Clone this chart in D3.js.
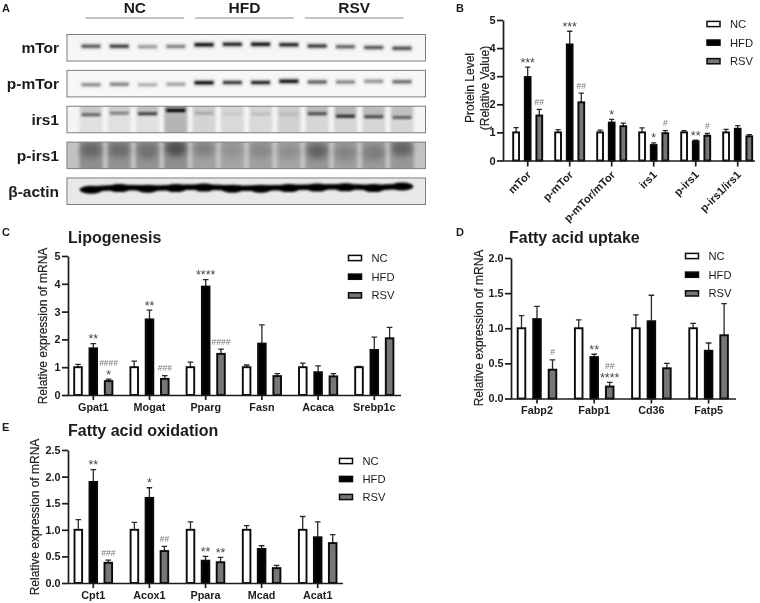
<!DOCTYPE html>
<html lang="en">
<head>
<meta charset="utf-8">
<title>Protein and mRNA levels</title>
<script src="https://d3js.org/d3.v7.min.js"></script>
<style>
  html, body { margin: 0; padding: 0; background: #fff; }
  svg { display: block; filter: blur(0.3px); }
  text { font-family: "Liberation Sans", Arial, sans-serif; fill: #1c1c1c; }
  .bold { font-weight: bold; }
</style>
</head>
<body>
<svg id="chart" width="760" height="603"></svg>
<script>
var series = ["NC", "HFD", "RSV"];
var seriesFill = ["#ffffff", "#000000", "#767676"];

// panel A, blot bands
var blotGroups = ["NC", "HFD", "RSV"];
var blotRows = ["mTor", "p-mTor", "irs1", "p-irs1", "β-actin"];
var lanes = d3.range(12);
var rowBackground = ["#f6f6f6", "#f7f7f7", "#f4f4f4", "#c2c2c2", "#e9e9e9"];
// band position as a fraction of row height, and band darkness 0-1
var mTorPos = [.44, .44, .46, .45, .39, .37, .37, .39, .43, .46, .49, .52];
var mTorDark = [.6, .72, .32, .42, 1, .85, 1, .85, .75, .55, .6, .65];
var pmTorPos = [.54, .52, .54, .52, .47, .46, .46, .41, .44, .44, .41, .43];
var pmTorDark = [.38, .42, .25, .3, 1, .72, .82, 1, .58, .42, .36, .52];
var irs1Pos = [.32, .26, .28, .16, .26, .3, .3, .3, .28, .38, .4, .42];
var irs1Dark = [.5, .38, .68, 1, .18, .06, .1, .1, .6, .75, .62, .5];
var irs1Smear = [.08, .08, .08, .26, .13, .11, .11, .14, .12, .12, .12, .12];
var pirs1Pos = [.3, .3, .34, .24, .26, .32, .32, .36, .34, .4, .4, .24];
var pirs1Dark = [.5, .46, .42, .8, .36, .2, .28, .24, .62, .3, .36, .62];
var pirs1Smear = [.26, .24, .24, .26, .17, .15, .17, .15, .22, .18, .2, .22];
var actinPos = [.42, .36, .38, .36, .34, .38, .38, .36, .34, .33, .36, .3];

// panel B
var bGroups = ["mTor", "p-mTor", "p-mTor/mTor", "irs1", "p-irs1", "p-irs1/irs1"];
var bNC = [1, 1, 1, 1, 1, 1];
var bHFD = [2.97, 4.13, 1.35, 0.55, 0.68, 1.13];
var bRSV = [1.6, 2.07, 1.22, 0.97, 0.88, 0.86];
var bNCTop = [1.17, 1.1, 1.08, 1.16, 1.06, 1.11];
var bHFDTop = [3.32, 4.6, 1.46, 0.63, 0.72, 1.24];
var bRSVTop = [1.82, 2.4, 1.33, 1.06, 0.96, 0.92];
var bMarks = [[0, 1, ["***"]], [0, 2, ["##"]], [1, 1, ["***"]], [1, 2, ["##"]], [2, 1, ["*"]],
              [3, 1, ["*"]], [3, 2, ["#"]], [4, 1, ["**"]], [4, 2, ["#"]]];

// panel C
var cGroups = ["Gpat1", "Mogat", "Pparg", "Fasn", "Acaca", "Srebp1c"];
var cNC = [1, 1, 1, 1, 1, 1];
var cHFD = [1.68, 2.72, 3.9, 1.85, 0.82, 1.62];
var cRSV = [0.5, 0.58, 1.48, 0.68, 0.67, 2.04];
var cNCTop = [1.1, 1.22, 1.18, 1.08, 1.15, 1.03];
var cHFDTop = [1.85, 3.05, 4.15, 2.52, 1.05, 2.08];
var cRSVTop = [0.57, 0.7, 1.65, 0.77, 0.77, 2.43];
var cMarks = [[0, 1, ["**"]], [0, 2, ["####", "*"]], [1, 1, ["**"]], [1, 2, ["###"]],
              [2, 1, ["****"]], [2, 2, ["####"]]];

// panel D
var dGroups = ["Fabp2", "Fabp1", "Cd36", "Fatp5"];
var dNC = [1, 1, 1, 1];
var dHFD = [1.13, 0.59, 1.1, 0.68];
var dRSV = [0.41, 0.17, 0.43, 0.9];
var dNCTop = [1.18, 1.12, 1.19, 1.07];
var dHFDTop = [1.31, 0.63, 1.47, 0.79];
var dRSVTop = [0.55, 0.23, 0.5, 1.35];
var dMarks = [[0, 2, ["#"]], [1, 1, ["**"]], [1, 2, ["##", "****"]]];

// panel E
var eGroups = ["Cpt1", "Acox1", "Ppara", "Mcad", "Acat1"];
var eNC = [1, 1, 1, 1, 1];
var eHFD = [1.9, 1.6, 0.42, 0.64, 0.86];
var eRSV = [0.38, 0.6, 0.39, 0.28, 0.75];
var eNCTop = [1.19, 1.14, 1.15, 1.08, 1.25];
var eHFDTop = [2.13, 1.79, 0.5, 0.7, 1.15];
var eRSVTop = [0.43, 0.69, 0.48, 0.33, 0.91];
var eMarks = [[0, 1, ["**"]], [0, 2, ["###"]], [1, 1, ["*"]], [1, 2, ["##"]], [2, 1, ["**"]], [2, 2, ["**"]]];

var svg = d3.select("#chart");
var defs = svg.append("defs");
[[ "blurBand", 0.9 ], [ "blurSmear", 1.4 ], [ "blurBlob", 3 ]].forEach(function(b) {
    defs.append("filter").attr("id", b[0])
        .attr("x", "-50%").attr("y", "-150%").attr("width", "200%").attr("height", "400%")
        .append("feGaussianBlur").attr("stdDeviation", b[1]);
});

function panelLetter(s, x, y) {
    svg.append("text").attr("class", "bold").attr("x", x).attr("y", y).attr("font-size", 11).text(s);
}

// ---- panel A ----
function drawBlot() {
    panelLetter("A", 2, 12);

    var laneX = d3.scalePoint().domain(lanes).range([91, 402]);
    var rowY = d3.scaleBand().domain(blotRows).range([34.5, 204.5]).paddingInner(0.26).paddingOuter(0);
    var groupX = d3.scaleBand().domain(blotGroups).range([85.5, 403.5]).paddingInner(0.1);

    var head = svg.append("g");
    blotGroups.forEach(function(g) {
        head.append("text").attr("class", "bold").attr("font-size", 15.5).attr("text-anchor", "middle")
            .attr("x", groupX(g) + groupX.bandwidth() / 2).attr("y", 13).text(g);
        head.append("line").attr("x1", groupX(g)).attr("x2", groupX(g) + groupX.bandwidth())
            .attr("y1", 18).attr("y2", 18).attr("stroke", "#8a8a8a").attr("stroke-width", 1);
    });

    var rows = [
        {pos: mTorPos, dark: mTorDark},
        {pos: pmTorPos, dark: pmTorDark},
        {pos: irs1Pos, dark: irs1Dark, smear: irs1Smear},
        {pos: pirs1Pos, dark: pirs1Dark, smear: pirs1Smear},
        {pos: actinPos}
    ];

    blotRows.forEach(function(name, r) {
        var y0 = rowY(name), h = rowY.bandwidth(), row = rows[r];
        var clipId = "clip" + r;
        defs.append("clipPath").attr("id", clipId).append("rect")
            .attr("x", 67).attr("y", y0).attr("width", 358.5).attr("height", h);

        svg.append("text").attr("class", "bold").attr("font-size", 15.5).attr("text-anchor", "end")
            .attr("x", 59).attr("y", y0 + h / 2 + 5.5).text(name);

        var g = svg.append("g").attr("clip-path", "url(#" + clipId + ")");
        g.append("rect").attr("x", 67).attr("y", y0).attr("width", 358.5).attr("height", h)
            .attr("fill", rowBackground[r]);

        if (row.smear) {
            g.selectAll(".smear").data(lanes).join("rect").attr("class", "smear")
                .attr("x", function(l) { return laneX(l) - 11.5; })
                .attr("y", y0 - 6).attr("width", 23).attr("height", h + 12)
                .attr("fill", "#000").attr("opacity", function(l) { return row.smear[l]; })
                .attr("filter", "url(#blurSmear)");
        }

        if (name == "β-actin") {
            // one thick continuous black band
            var line = d3.line().x(function(l) { return laneX(l); })
                .y(function(l) { return y0 + row.pos[l] * h; }).curve(d3.curveCatmullRom);
            var ag = g.append("g").attr("filter", "url(#blurBand)");
            ag.append("path").attr("d", line(lanes)).attr("fill", "none").attr("stroke", "#000")
                .attr("stroke-width", 5.5).attr("stroke-linecap", "round");
            ag.selectAll(".core").data(lanes).join("ellipse").attr("class", "core")
                .attr("cx", function(l) { return laneX(l); })
                .attr("cy", function(l) { return y0 + row.pos[l] * h + 0.6; })
                .attr("rx", 11.5).attr("ry", 4).attr("fill", "#000");
        } else if (name == "p-irs1") {
            g.selectAll(".blob").data(lanes).join("ellipse").attr("class", "blob")
                .attr("cx", function(l) { return laneX(l); })
                .attr("cy", function(l) { return y0 + row.pos[l] * h; })
                .attr("rx", 11).attr("ry", 8).attr("fill", "#000")
                .attr("opacity", function(l) { return row.dark[l] * 0.55; })
                .attr("filter", "url(#blurBlob)");
        } else {
            if (name == "irs1") {
                // darker smear from the top of the lane down to the band
                g.selectAll(".upper").data(lanes).join("rect").attr("class", "upper")
                    .attr("x", function(l) { return laneX(l) - 10.5; })
                    .attr("y", y0 - 4)
                    .attr("width", 21).attr("height", function(l) { return row.pos[l] * h + 5; })
                    .attr("fill", "#000").attr("opacity", function(l) { return row.dark[l] * 0.2; })
                    .attr("filter", "url(#blurSmear)");
            } else {
                g.selectAll(".halo").data(lanes).join("rect").attr("class", "halo")
                    .attr("x", function(l) { return laneX(l) - 10.5; })
                    .attr("y", function(l) { return y0 + row.pos[l] * h - 3.5; })
                    .attr("width", 21).attr("height", 7)
                    .attr("fill", "#000").attr("opacity", function(l) { return row.dark[l] * 0.18; })
                    .attr("filter", "url(#blurSmear)");
            }
            g.selectAll(".band").data(lanes).join("rect").attr("class", "band")
                .attr("x", function(l) { return laneX(l) - 9.5; })
                .attr("y", function(l) { return y0 + row.pos[l] * h - 1.5; })
                .attr("width", 19).attr("height", 3).attr("rx", 1)
                .attr("fill", "#000").attr("opacity", function(l) { return Math.min(1, row.dark[l] * 1.05); })
                .attr("filter", "url(#blurBand)");
        }

        svg.append("rect").attr("x", 67).attr("y", y0).attr("width", 358.5).attr("height", h)
            .attr("fill", "none").attr("stroke", "#7d7d7d").attr("stroke-width", 1);
    });
}

// ---- bar panels ----
function drawBars(o) {
    var y = d3.scaleLinear().domain(o.domain).range([o.y0, o.y1]);
    var step = o.step;
    var x0 = d3.scaleBand().domain(o.groups)
        .range([o.first - step / 2, o.first + step * (o.groups.length - 0.5)]);
    var x1 = d3.scalePoint().domain(series).range([-o.spread, o.spread]);
    var barW = o.barW;
    var values = [o.nc, o.hfd, o.rsv];
    var tops = [o.ncTop, o.hfdTop, o.rsvTop];

    var g = svg.append("g");

    series.forEach(function(s, si) {
        var sg = g.append("g");
        // error bars go first so the bar outline covers the stem foot
        sg.selectAll(".err").data(o.groups).join("path").attr("class", "err")
            .attr("d", function(d, i) {
                var cx = x0(d) + x0.bandwidth() / 2 + x1(s);
                return "M" + cx + "," + y(values[si][i]) + "V" + y(tops[si][i]) +
                       "M" + (cx - o.cap) + "," + y(tops[si][i]) + "H" + (cx + o.cap);
            })
            .attr("fill", "none").attr("stroke", "#2a2a2a").attr("stroke-width", 1.3);
        sg.selectAll(".bar").data(o.groups).join("rect").attr("class", "bar")
            .attr("x", function(d) { return x0(d) + x0.bandwidth() / 2 + x1(s) - barW / 2; })
            .attr("y", function(d, i) { return y(values[si][i]); })
            .attr("width", barW)
            .attr("height", function(d, i) { return y(0) - y(values[si][i]); })
            .attr("fill", seriesFill[si]).attr("stroke", "#0a0a0a").attr("stroke-width", 1.9);
    });

    // significance marks stacked above the error bar
    o.marks.forEach(function(m) {
        var cx = x0(o.groups[m[0]]) + x0.bandwidth() / 2 + x1(series[m[1]]);
        var base = y(tops[m[1]][m[0]]);
        m[2].slice().reverse().forEach(function(txt, k) {
            var isHash = txt[0] == "#";
            g.append("text").attr("text-anchor", "middle").attr("x", cx)
                .attr("y", base - k * 9 + (isHash ? -4.5 : -0.5))
                .attr("font-size", isHash ? 8.5 : 12.5)
                .style("fill", isHash ? "#777" : "#444")
                .text(txt);
        });
    });

    var yAxis = d3.axisLeft(y).tickValues(o.ticks).tickFormat(o.format).tickSize(6).tickSizeOuter(0);
    var yG = svg.append("g").attr("transform", "translate(" + o.left + ",0)").call(yAxis);
    var xAxis = d3.axisBottom(x0).tickSize(o.rotate ? 6 : 5).tickSizeOuter(0);
    var xG = svg.append("g").attr("transform", "translate(0," + o.y0 + ")").call(xAxis);
    xG.select(".domain").attr("d", "M" + o.left + ",0.5H" + o.right);

    [yG, xG].forEach(function(a) {
        a.selectAll(".domain, line").attr("stroke", "#1c1c1c").attr("stroke-width", 1.7);
        a.selectAll("text").attr("class", "bold").attr("font-size", o.tickFont);
    });
    yG.selectAll("text").attr("x", -7.5);

    if (o.rotate) {
        xG.selectAll("text").attr("text-anchor", "end").attr("dy", 0).attr("y", 0)
            .attr("transform", "translate(4,15) rotate(-45)");
    } else {
        xG.selectAll("text").attr("y", 8);
    }

    // y title
    o.yTitle.forEach(function(t, i) {
        svg.append("text").attr("font-size", o.titleFont).attr("text-anchor", "middle")
            .attr("stroke", "#1c1c1c").attr("stroke-width", 0.2)
            .attr("transform", "translate(" + (o.yTitleX + i * 15) + "," + o.yTitleY + ") rotate(-90)")
            .text(t);
    });

    if (o.title) {
        svg.append("text").attr("class", "bold").attr("font-size", 16).attr("x", o.titleX).attr("y", o.titleY).text(o.title);
    }

    // legend
    series.forEach(function(s, si) {
        var ly = o.legendY + si * o.legendStep;
        svg.append("rect").attr("x", o.legendX).attr("y", ly - 2.6).attr("width", 13).attr("height", 5.2)
            .attr("fill", seriesFill[si]).attr("stroke", "#0a0a0a").attr("stroke-width", 1.5);
        svg.append("text").attr("x", o.legendX + 23).attr("y", ly + 4).attr("font-size", 11.2).text(s);
    });
}

drawBlot();

panelLetter("B", 456, 12);
panelLetter("C", 2, 236);
panelLetter("D", 456, 236);
panelLetter("E", 2, 431);

drawBars({
    groups: bGroups, nc: bNC, hfd: bHFD, rsv: bRSV, ncTop: bNCTop, hfdTop: bHFDTop, rsvTop: bRSVTop, marks: bMarks,
    domain: [0, 5], ticks: [0, 1, 2, 3, 4, 5], format: d3.format("d"),
    y0: 160.5, y1: 20, left: 503, right: 755, first: 527.7, step: 42, spread: 11.6, barW: 5.8, cap: 2.6,
    rotate: true, tickFont: 11, titleFont: 12,
    yTitle: ["Protein Level", "(Relative Value)"], yTitleX: 474, yTitleY: 88,
    legendX: 707, legendY: 24, legendStep: 18.6
});
drawBars({
    groups: cGroups, nc: cNC, hfd: cHFD, rsv: cRSV, ncTop: cNCTop, hfdTop: cHFDTop, rsvTop: cRSVTop, marks: cMarks,
    domain: [0, 5], ticks: [0, 1, 2, 3, 4, 5], format: d3.format("d"),
    y0: 395, y1: 256, left: 68, right: 401, first: 93.3, step: 56.2, spread: 15.3, barW: 7.6, cap: 2.8,
    tickFont: 10.8, titleFont: 12,
    yTitle: ["Relative expression of mRNA"], yTitleX: 47, yTitleY: 326,
    title: "Lipogenesis", titleX: 68, titleY: 243,
    legendX: 348.5, legendY: 258, legendStep: 18.7
});
drawBars({
    groups: dGroups, nc: dNC, hfd: dHFD, rsv: dRSV, ncTop: dNCTop, hfdTop: dHFDTop, rsvTop: dRSVTop, marks: dMarks,
    domain: [0, 2], ticks: [0, 0.5, 1, 1.5, 2], format: d3.format(".1f"),
    y0: 398.5, y1: 258, left: 511, right: 736, first: 537, step: 57.2, spread: 15.5, barW: 7.6, cap: 2.8,
    tickFont: 10.8, titleFont: 12,
    yTitle: ["Relative expression of mRNA"], yTitleX: 483, yTitleY: 328,
    title: "Fatty acid uptake", titleX: 509, titleY: 243,
    legendX: 685.5, legendY: 256, legendStep: 18.7
});
drawBars({
    groups: eGroups, nc: eNC, hfd: eHFD, rsv: eRSV, ncTop: eNCTop, hfdTop: eHFDTop, rsvTop: eRSVTop, marks: eMarks,
    domain: [0, 2.5], ticks: [0, 0.5, 1, 1.5, 2, 2.5], format: d3.format(".1f"),
    y0: 583, y1: 450, left: 68, right: 343, first: 93.3, step: 56.1, spread: 15, barW: 7.6, cap: 2.8,
    tickFont: 10.8, titleFont: 12,
    yTitle: ["Relative expression of mRNA"], yTitleX: 39, yTitleY: 517,
    title: "Fatty acid oxidation", titleX: 68, titleY: 436,
    legendX: 339.5, legendY: 461, legendStep: 18
});
</script>
</body>
</html>
